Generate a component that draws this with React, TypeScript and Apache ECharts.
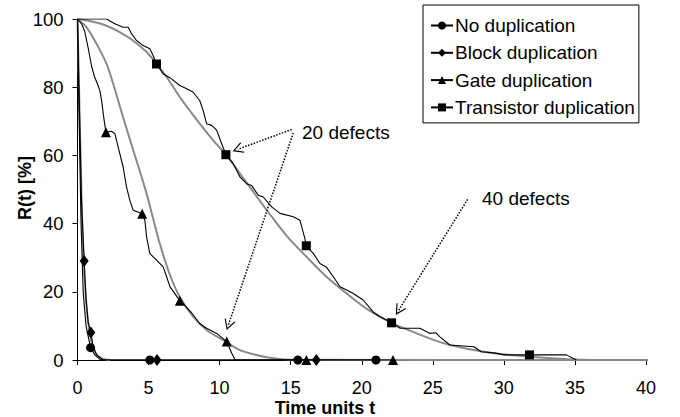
import React, { useEffect, useRef } from "react";
import * as echarts from "echarts";

const FONT = "'Liberation Sans', Arial, sans-serif";

const seriesNames = ["No duplication", "Block duplication", "Gate duplication", "Transistor duplication"];

// simulated (black) curves
const noDupSim: number[][] = [
  [0, 100], [0.08, 80], [0.16, 60], [0.25, 40], [0.4, 20], [0.6, 10], [0.92, 3.6],
  [1.22, 1.5], [1.57, 0.2], [2.0, 0], [21.0, 0],
];
const blockSim: number[][] = [
  [0, 100], [0.1, 80], [0.2, 62], [0.28, 47], [0.47, 29], [0.6, 18], [0.75, 11], [0.94, 8.1],
  [1.1, 3.9], [1.34, 1.5], [1.8, 0], [16.8, 0],
];
const gateSim: number[][] = [
  [0, 100], [0.3, 98.5], [0.5, 96.5], [0.75, 91.5], [1.0, 86], [1.2, 83], [1.4, 81], [1.57, 79],
  [1.7, 76], [1.85, 71], [2.0, 66.8], [2.39, 67.1], [2.63, 66.4], [2.86, 62.5], [3.21, 56.6],
  [3.45, 50.7], [3.68, 46.9], [3.92, 43.9], [4.55, 42.9], [4.74, 41.0], [4.86, 36.1], [5.09, 31.2],
  [5.56, 29.3], [6.03, 27.3], [6.27, 24.4], [6.5, 21.5], [7.2, 17.4], [7.65, 15.6], [8.0, 14.0],
  [8.6, 10.7], [9.08, 9.3], [9.79, 7.8], [10.5, 5.4], [10.85, 2.0], [11.1, 0], [22.2, 0],
];
const transistorSim: number[][] = [
  [0, 100], [2.04, 100], [2.63, 98.6], [3.21, 97.6], [3.57, 97.6], [3.8, 95.7], [4.15, 93.7],
  [4.62, 92.2], [5.09, 91.3], [5.32, 89.3], [5.56, 86.8], [6.03, 83.9], [6.5, 82.8], [7.2, 80.5],
  [7.65, 79.6], [8.12, 78.6], [8.6, 76.1], [8.84, 73.2], [9.08, 69.3], [9.44, 68.8], [9.79, 67.4],
  [10.14, 63.5], [10.44, 60.2], [10.96, 57.6], [11.43, 53.7], [11.9, 51.7], [12.25, 51.2],
  [12.72, 48.3], [13.07, 47.8], [13.66, 44.9], [14.25, 43.0], [15.18, 42.0], [15.65, 41.0],
  [16.0, 35.6], [16.1, 33.5], [16.6, 31.2], [17.06, 28.3], [17.5, 27.3], [18.0, 24.4],
  [18.47, 21.5], [18.94, 20.5], [19.4, 19.5], [20.1, 17.6], [20.8, 14.1], [21.3, 12.7],
  [22.1, 10.9], [22.7, 9.3], [24.1, 9.3], [24.8, 7.8], [25.2, 8.0], [25.5, 6.8], [26.2, 4.4],
  [27.9, 3.9], [28.4, 2.4], [29.3, 2.1], [30.0, 1.5], [31.8, 1.5], [34.4, 1.5], [35.1, 0],
];

// markers
const noDupMarkers: number[][] = [[0.92, 3.6], [5.09, 0], [15.5, 0], [21.0, 0]];
const blockMarkers: number[][] = [[0.47, 29], [0.94, 8.1], [5.6, 0], [16.8, 0]];
const gateMarkers: number[][] = [[2.0, 66.8], [4.55, 42.9], [7.2, 17.4], [10.5, 5.4], [16.1, 0], [22.2, 0]];
const transistorMarkers: number[][] = [[5.56, 86.8], [10.44, 60.2], [16.1, 33.5], [22.1, 10.9], [31.8, 1.5]];

// analytic (gray) curves
const earlyModel: number[][] = [
  [0, 100], [0.15, 72], [0.3, 45], [0.5, 24], [0.75, 11], [1.0, 5], [1.3, 2], [1.7, 0.5], [2.3, 0],
];
const gateModel: number[][] = [
  [0, 100], [0.63, 97.6], [1.34, 92.7], [2.04, 86.9], [2.51, 81.0], [3.21, 71.2], [3.92, 61.5],
  [4.4, 55.2], [4.9, 48.2], [5.32, 41.5], [5.8, 34.0], [6.5, 25.0], [7.2, 18.5], [8.14, 12.7],
  [9.08, 8.8], [10.5, 5.2], [11.43, 2.9], [12.1, 2.0], [13.3, 0.8], [14.9, 0.1], [40.5, 0],
];
const transistorModel: number[][] = [
  [0, 100], [1.1, 99.2], [2.0, 98.1], [3.0, 96.1], [3.9, 93.7], [4.86, 90.3], [5.56, 86.9],
  [6.27, 83.0], [7.3, 76.5], [8.6, 69.3], [9.55, 64.4], [10.44, 60.2], [11.9, 52], [13.42, 43.4],
  [14.7, 36.5], [16.13, 30.2], [17.5, 24.5], [18.94, 19.5], [20.35, 15], [22.1, 10.9],
  [23.87, 7.8], [25.05, 5.9], [26.2, 4.4], [28.6, 2.4], [30.9, 1.3], [33.3, 0.5], [35.5, 0.1], [40.5, 0],
];

// annotation arrows: [from, to] in data coordinates
const arrows20: number[][][] = [
  [[15.07, 67.6], [11.28, 61.8]],
  [[15.18, 66.6], [10.62, 10.3]],
];
const arrows40: number[][][] = [[[27.45, 47.1], [22.6, 14.6]]];
const annotationTexts = ["20 defects", "40 defects"];
const axisTitles = ["Time units t", "R(t) [%]"];

function merge(sim: number[][], markers: number[][]) {
  const pts = [
    ...sim.map((p) => ({ value: p, symbol: "none" as any })),
    ...markers.map((p) => ({ value: p })),
  ];
  pts.sort((a, b) => a.value[0] - b.value[0]);
  return pts;
}

const CHEVRON = "path://M0,0 L7,10 L6,11 L0,2.4 L-6,11 L-7,10 Z";

export default function App() {
  const ref = useRef<HTMLDivElement>(null);
  useEffect(() => {
    if (!ref.current) return;
    const chart = echarts.init(ref.current, null, { renderer: "svg" });
    const gray = "#8a8a8a";
    const blackLine = (name: string, sim: number[][], markers: number[][], symbol: string, size: any, extra: any = {}) => ({
      type: "line",
      name,
      data: merge(sim, markers),
      symbol,
      symbolSize: size,
      showSymbol: true,
      showAllSymbol: true,
      lineStyle: { color: "#000", width: 1.1 },
      itemStyle: { color: "#000" },
      z: 3,
      ...extra,
    });
    const grayLine = (data: number[][]) => ({
      type: "line",
      data,
      symbol: "none",
      smooth: 0.3,
      clip: false,
      lineStyle: { color: gray, width: 2 },
      z: 2,
      silent: true,
    });
    const mkArrows = (arr: number[][][]) =>
      arr.map(([a, b]) => [{ coord: a }, { coord: b }]);
    const option: any = {
      animation: false,
      grid: { left: 77.5, right: 34, top: 19, bottom: 57 },
      xAxis: {
        type: "value",
        min: 0,
        max: 40,
        interval: 5,
        axisLine: { show: true, lineStyle: { color: "#000", width: 1 } },
        axisTick: { show: true, inside: false, length: 5, lineStyle: { color: "#000" } },
        axisLabel: { margin: 19, color: "#000", fontSize: 18, fontFamily: FONT },
        splitLine: { show: false },
      },
      yAxis: {
        type: "value",
        min: 0,
        max: 100,
        interval: 20,
        axisLine: { show: true, lineStyle: { color: "#000", width: 1 } },
        axisTick: { show: true, inside: false, length: 5, lineStyle: { color: "#000" } },
        axisLabel: { margin: 14, color: "#000", fontSize: 18.5, fontFamily: FONT },
        splitLine: { show: false },
      },
      legend: {
        data: seriesNames,
        orient: "vertical",
        left: 423,
        top: 5,
        padding: [11, 4, 6, 7],
        itemGap: 8.3,
        itemWidth: 22,
        itemHeight: 10,
        borderColor: "#000",
        borderWidth: 1,
        borderRadius: 0,
        backgroundColor: "#fff",
        textStyle: { color: "#000", fontSize: 19, fontFamily: FONT, padding: [0, 0, 0, -3] },
        selectedMode: false,
      },
      graphic: [
        {
          type: "text",
          x: 302,
          y: 132,
          style: { text: annotationTexts[0], font: `19px ${FONT}`, fill: "#000", verticalAlign: "middle" },
        },
        {
          type: "text",
          x: 482,
          y: 198,
          style: { text: annotationTexts[1], font: `19px ${FONT}`, fill: "#000", verticalAlign: "middle" },
        },
        {
          type: "text",
          x: 325,
          y: 407.5,
          style: { text: axisTitles[0], font: `bold 18px ${FONT}`, fill: "#000", align: "center", verticalAlign: "middle" },
        },
        {
          type: "text",
          x: 25,
          y: 188,
          rotation: Math.PI / 2,
          style: { text: axisTitles[1], font: `bold 18px ${FONT}`, fill: "#000", align: "center", verticalAlign: "middle" },
        },
      ],
      series: [
        grayLine(earlyModel),
        grayLine(gateModel),
        grayLine(transistorModel),
        blackLine(seriesNames[0], noDupSim, noDupMarkers, "circle", 9),
        blackLine(seriesNames[1], blockSim, blockMarkers, "diamond", [9, 12]),
        blackLine(seriesNames[2], gateSim, gateMarkers, "triangle", 10),
        blackLine(seriesNames[3], transistorSim, transistorMarkers, "rect", 9, {
          markLine: {
            silent: true,
            symbol: ["none", CHEVRON],
            symbolSize: 11,
            label: { show: false },
            lineStyle: { type: "dotted", color: "#000", width: 1.5 },
            emphasis: { disabled: true },
            data: [...mkArrows(arrows20), ...mkArrows(arrows40)],
          },
        }),
      ],
    };
    chart.setOption(option);
    return () => chart.dispose();
  }, []);
  return <div ref={ref} style={{ width: 680, height: 417, position: "absolute", left: 0, top: 0 }} />;
}
